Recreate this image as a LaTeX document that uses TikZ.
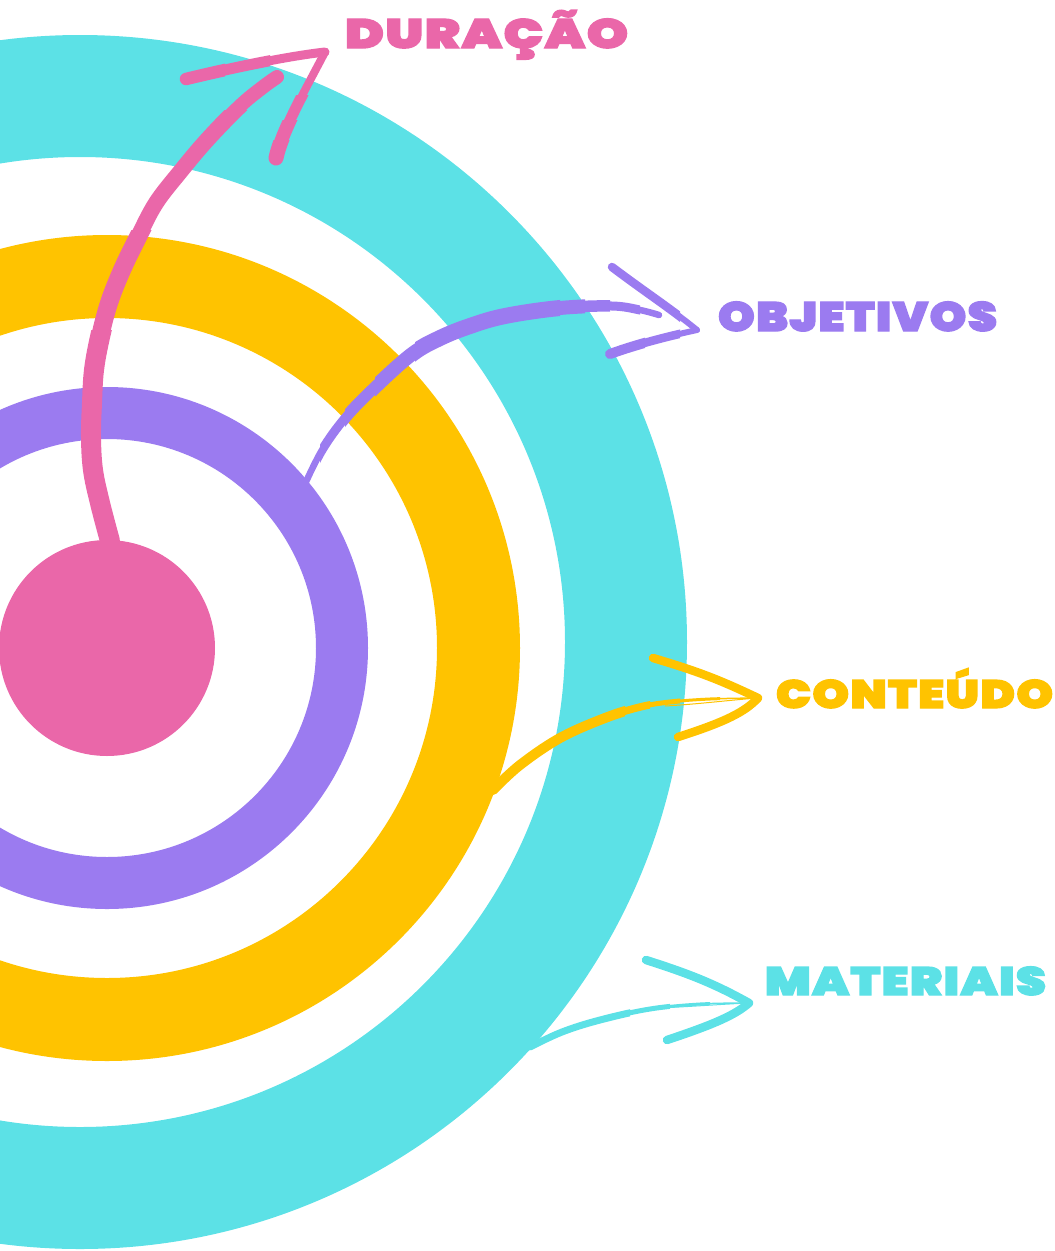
\documentclass[tikz,border=0pt]{standalone}
\usepackage{fontspec}
\usepackage{graphicx}
\newfontfamily\lblfont{Poppins}[UprightFont={* Black},FakeBold=3,LetterSpace=3]
\definecolor{cyanR}{HTML}{5CE1E6}
\definecolor{yellowR}{HTML}{FFC300}
\definecolor{purpleR}{HTML}{9B7BF0}
\definecolor{pinkR}{HTML}{EA67A9}
\newcommand{\mylbl}[3]{\resizebox{#1pt}{#2pt}{\lblfont\smash{#3}\vphantom{D}}}
\tikzset{
  sketch/.style={line cap=round, line join=round},
  lbl/.style={anchor=south west, inner sep=0pt, outer sep=0pt},
}
\begin{document}
\begin{tikzpicture}[x=1pt,y=-1pt]
\useasboundingbox (0,0) rectangle (1055,1251);
\clip (0,0) rectangle (1055,1251);
% rings
\fill[cyanR, even odd rule] (80,642) circle (607pt) (80,642) circle (485pt);
\fill[yellowR, even odd rule] (107,648) circle (413pt) (107,648) circle (330pt);
\fill[purpleR, even odd rule] (107,648) circle (261pt) (107,648) circle (209pt);
\fill[pinkR] (107,648) circle (108pt);
% labels
\node[lbl, text=pinkR] (duracao) at (345,48) {\mylbl{283}{29}{DURAÇÃO}};
\node[lbl, text=purpleR] (objetivos) at (718,331) {\mylbl{279}{29}{OBJETIVOS}};
\node[lbl, text=yellowR] (conteudo) at (776,708) {\mylbl{277}{28}{CONTEÚDO}};
\node[lbl, text=cyanR] (materiais) at (765,995) {\mylbl{281}{28}{MATERIAIS}};
% anchor coordinates
\coordinate (pinkS) at (110,541);
\coordinate (pinkT) at (325,52);
\coordinate (purpS) at (305,484);
\coordinate (purpT) at (697,330);
\coordinate (yelS) at (493,790);
\coordinate (yelT) at (758,698);
\coordinate (cyaS) at (530,1047);
\coordinate (cyaT) at (749,1003);
% ---------- pink arrow (tapered shaft)
\foreach \w/\ytop in {14/0, 16/110, 18/230, 20/330} {
  \begin{scope}
    \clip (0,\ytop) rectangle (400,560);
    \draw[pinkR, sketch, line width=\w pt] plot[smooth, tension=0.6] coordinates
      {(pinkS) (100,503) (93,470) (91,437) (92,403) (94,370) (100,337) (109,303) (122,270) (138,237) (156,203) (180,172) (207,140) (240,106) (263,87) (277,77)};
  \end{scope}
}
\foreach \w/\xr in {9/400, 11/270, 12.5/225} {
  \begin{scope}
    \clip (0,0) rectangle (\xr,200);
    \draw[pinkR, sketch, line width=\w pt] (186,79) .. controls (240,66) and (290,56) .. (pinkT);
  \end{scope}
}
\foreach \w/\ytop in {8/0, 11/95, 13.5/120, 15/140} {
  \begin{scope}
    \clip (200,\ytop) rectangle (400,200);
    \draw[pinkR, sketch, line width=\w pt] (pinkT) .. controls (308,85) and (282,130) .. (276,158);
  \end{scope}
}
% ---------- purple arrow
\foreach \w/\xl/\xr in {6.5/0/700, 9/320/640, 11.5/345/610, 14/375/585, 16/415/560} {
  \begin{scope}
    \clip (\xl,250) rectangle (\xr,500);
    \draw[purpleR, sketch, line width=\w pt] plot[smooth, tension=0.6] coordinates
      {(purpS) (322,450) (345,418) (375,387) (412,354) (440,338) (470,326) (505,316) (560,308) (612,306) (640,310) (659,315)};
  \end{scope}
}
\foreach \w/\xl/\xr in {6/0/800, 8.5/600/680} {
  \begin{scope}
    \clip (\xl,250) rectangle (\xr,340);
    \draw[purpleR, sketch, line width=\w pt] (612,267) .. controls (645,292) and (670,308) .. (purpT);
  \end{scope}
}
\foreach \w/\xl/\xr in {6/0/800, 8.5/0/680, 10/0/645} {
  \begin{scope}
    \clip (\xl,320) rectangle (\xr,380);
    \draw[purpleR, sketch, line width=\w pt] (purpT) .. controls (660,338) and (632,346) .. (610,354);
  \end{scope}
}
% ---------- yellow arrow
\foreach \w/\xr in {1.5/800, 3/720, 5/680, 7.5/650, 10/625} {
  \begin{scope}
    \clip (0,600) rectangle (\xr,820);
    \draw[yellowR, sketch, line width=\w pt] plot[smooth, tension=0.6] coordinates
      {(yelS) (520,765) (560,738) (605,718) (640,707) (670,702) (710,699) (yelT)};
  \end{scope}
}
\draw[yellowR, sketch, line width=1pt] (665,706) .. controls (700,704) and (730,700) .. (yelT);
\draw[yellowR, sketch, line width=8.5pt] (653,658) .. controls (700,672) and (720,680) .. (yelT);
\draw[yellowR, sketch, line width=8.5pt] (yelT) .. controls (745,712) and (725,722) .. (678,737);
% ---------- cyan arrow
\foreach \w/\xr in {1.5/800, 3/710, 5/670, 7/630} {
  \begin{scope}
    \clip (0,900) rectangle (\xr,1100);
    \draw[cyanR, sketch, line width=\w pt] plot[smooth, tension=0.6] coordinates
      {(cyaS) (562,1032) (600,1020) (650,1009) (700,1004) (cyaT)};
  \end{scope}
}
\draw[cyanR, sketch, line width=1pt] (660,1008) .. controls (700,1006) and (725,1004) .. (cyaT);
\draw[cyanR, sketch, line width=8.5pt] (646,960) .. controls (690,974) and (715,984) .. (cyaT);
\draw[cyanR, sketch, line width=8.5pt] (cyaT) .. controls (735,1015) and (715,1024) .. (667,1040);
\end{tikzpicture}
\end{document}
